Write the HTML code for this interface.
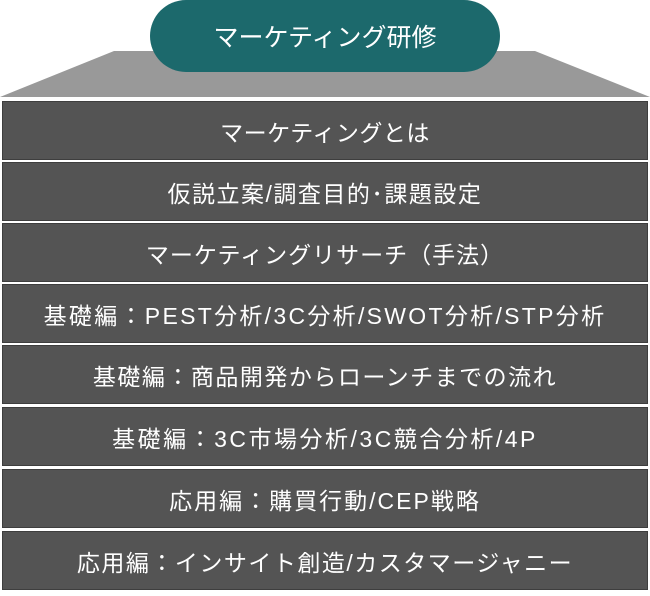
<!DOCTYPE html>
<html><head><meta charset="utf-8"><style>
body{margin:0;width:650px;height:596px;background:#fff;position:relative;overflow:hidden;font-family:"Liberation Sans","Noto Sans CJK JP",sans-serif;}
.row{position:absolute;left:2px;width:644px;height:57px;background:#545454;border:1px solid #3e3e3e;color:#fff;font-size:23px;display:flex;align-items:center;justify-content:center;letter-spacing:0.5px;white-space:nowrap;}
.pill{position:absolute;left:150px;top:0;width:350px;height:72px;background:#1c696c;border-radius:36px;color:#fff;font-size:25px;display:flex;align-items:center;justify-content:center;}
</style></head><body>
<svg width="650" height="100" style="position:absolute;left:0;top:0"><polygon points="114,51 535,51 650,97 0,97" fill="#999"/></svg>
<div class="pill">マーケティング研修</div>
<div class="row" style="top:101px">マーケティングとは</div>
<div class="row" style="top:162px;letter-spacing:1.5px">仮説立案/調査目的･課題設定</div>
<div class="row" style="top:223px;letter-spacing:1px">マーケティングリサーチ（手法）</div>
<div class="row" style="top:284px;letter-spacing:2.3px">基礎編：PEST分析/3C分析/SWOT分析/STP分析</div>
<div class="row" style="top:345px;letter-spacing:1.5px">基礎編：商品開発からローンチまでの流れ</div>
<div class="row" style="top:407px;letter-spacing:2.5px">基礎編：3C市場分析/3C競合分析/4P</div>
<div class="row" style="top:469px;letter-spacing:2px">応用編：購買行動/CEP戦略</div>
<div class="row" style="top:531px;letter-spacing:1.5px">応用編：インサイト創造/カスタマージャニー</div>
</body></html>
